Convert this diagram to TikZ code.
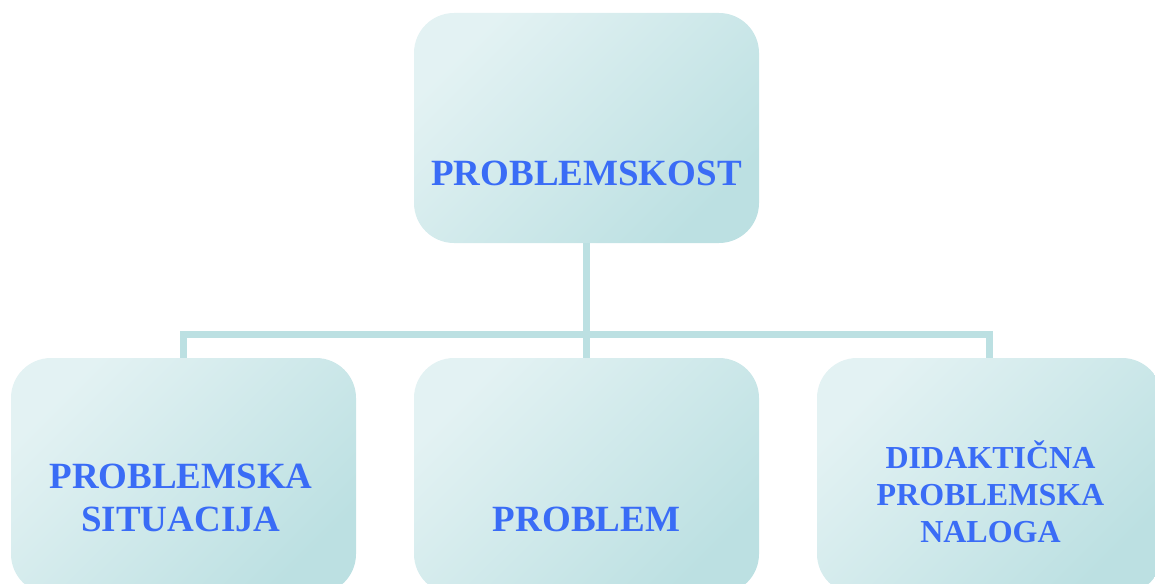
\documentclass[tikz,border=0pt]{standalone}
\usepackage{fontspec}
\setmainfont{Liberation Serif}
\usetikzlibrary{positioning}
\definecolor{boxlight}{RGB}{227,242,243}
\definecolor{boxdark}{RGB}{188,224,226}
\definecolor{labelblue}{RGB}{58,108,246}
\begin{document}
\begin{tikzpicture}[x=1pt,y=-1pt,
	box/.style={rounded corners=40pt,minimum width=345pt,minimum height=230pt,inner sep=0pt,top color=boxlight,bottom color=boxdark,shading angle=45},
	txt/.style={text=labelblue,font=\fontsize{37}{43}\selectfont\bfseries,align=center,inner sep=0pt},
	link/.style={draw=boxdark,line width=7pt}]
	\useasboundingbox (0,0) rectangle (1155,583);
	\node[box] at (586.5,128) (top) {};
	\foreach \x/\n in {183.5/a,586.5/b,989.5/c}
		\node[box,minimum height=236pt] at (\x,476) (\n) {};
	\coordinate (hub) at (586.5,334);
	% connectors
	\draw[link] (top) -- (b);
	\draw[link] (a) |- (hub) -| (c);
	% labels
	\node[txt,anchor=base] at (586.5,185) (ttop) {PROBLEMSKOST};
	\node[txt,anchor=base] at (181,531) (ta) {PROBLEMSKA\\SITUACIJA};
	\node[txt,anchor=base] at (586.5,531) (tb) {PROBLEM};
	\node[txt,anchor=base,font=\fontsize{32}{37}\selectfont\bfseries] at (990.5,542) (tc) {DIDAKTIČNA\\PROBLEMSKA\\NALOGA};
\end{tikzpicture}
\end{document}
